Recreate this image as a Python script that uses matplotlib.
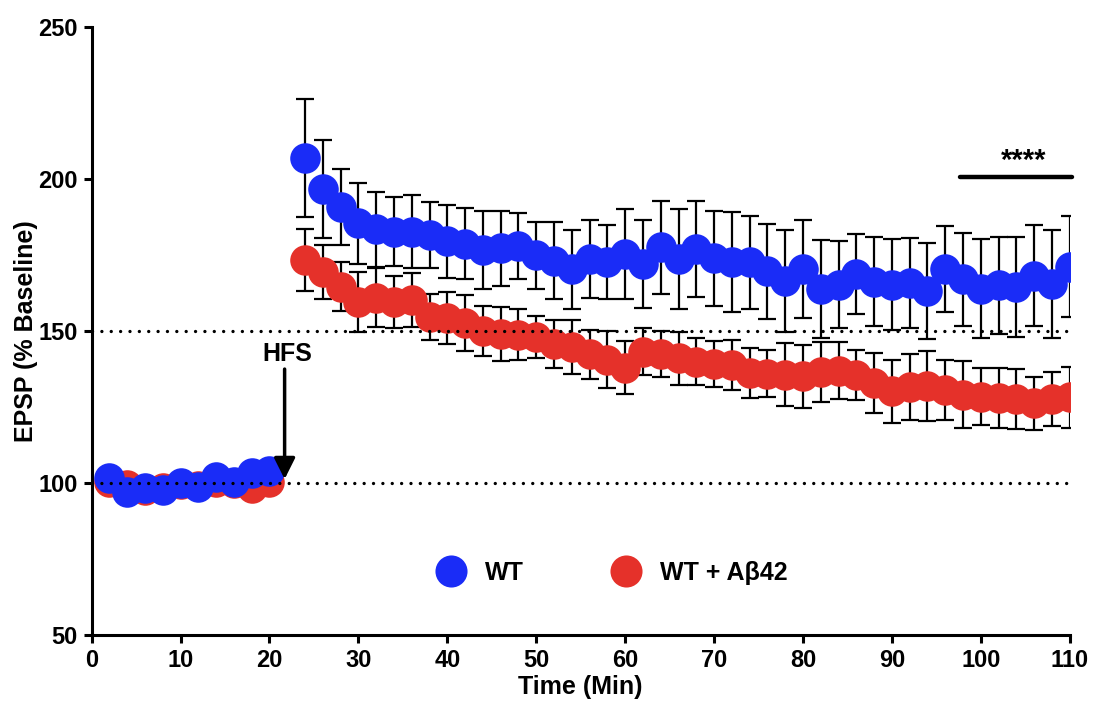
import matplotlib
matplotlib.use("Agg")
import matplotlib.pyplot as plt
import numpy as np

plt.rcParams['font.family'] = ['Liberation Sans', 'DejaVu Sans']
plt.rcParams['font.weight'] = 'bold'

# time points (min): baseline then post-HFS
time_min = [2, 4, 6, 8, 10, 12, 14, 16, 18, 20,
            24, 26, 28, 30, 32, 34, 36, 38, 40, 42, 44, 46, 48, 50, 52, 54,
            56, 58, 60, 62, 64, 66, 68, 70, 72, 74, 76, 78, 80, 82, 84, 86,
            88, 90, 92, 94, 96, 98, 100, 102, 104, 106, 108, 110]

wt_mean = [101.7, 97.2, 98.4, 97.6, 100.0, 98.8, 102.0, 100.3, 103.3, 103.9,
           207.0, 196.7, 190.9, 185.4, 183.5, 182.7, 182.7, 181.6, 179.6, 178.8,
           176.6, 177.2, 178.0, 175.0, 173.2, 170.3, 173.7, 172.8, 175.3, 172.0,
           177.5, 173.6, 177.0, 173.9, 172.8, 172.6, 169.6, 166.6, 170.4, 163.8,
           165.3, 168.8, 166.3, 165.3, 165.7, 163.1, 170.3, 167.0, 164.0, 165.0,
           164.6, 168.2, 165.5, 171.2]
wt_sem = [2.0, 2.0, 2.0, 2.0, 2.0, 2.0, 2.0, 2.0, 2.0, 2.0,
          19.5, 16.0, 12.5, 13.4, 12.4, 11.4, 12.0, 11.0, 12.0, 11.8,
          12.9, 12.3, 10.8, 11.0, 12.6, 13.0, 12.7, 12.2, 14.9, 14.5,
          15.2, 16.5, 15.8, 15.6, 16.5, 15.2, 15.5, 16.8, 16.1, 16.2,
          14.4, 13.1, 14.5, 15.0, 14.8, 15.8, 14.1, 15.2, 16.2, 16.0,
          16.4, 16.6, 17.8, 16.6]

ab_mean = [100.5, 99.5, 97.8, 98.5, 99.6, 99.2, 100.2, 100.0, 98.5, 100.5,
           173.4, 169.5, 164.6, 159.6, 161.0, 159.6, 160.2, 154.7, 154.2, 152.8,
           150.0, 149.0, 148.8, 148.0, 145.8, 144.8, 142.3, 140.6, 137.9, 143.2,
           142.5, 141.0, 139.9, 139.3, 138.9, 136.2, 136.0, 135.6, 135.1, 136.6,
           137.0, 135.5, 132.8, 130.2, 131.6, 132.0, 130.6, 129.0, 128.4, 127.9,
           127.7, 126.2, 127.6, 128.2]
ab_sem = [2.0, 2.0, 2.0, 2.0, 2.0, 2.0, 2.0, 2.0, 2.0, 2.0,
          10.2, 8.8, 8.0, 9.9, 9.8, 8.6, 9.0, 7.6, 8.6, 9.2,
          8.2, 9.0, 8.4, 7.0, 8.0, 8.8, 8.2, 9.3, 8.7, 7.7,
          7.6, 8.8, 7.7, 7.6, 8.2, 8.2, 7.8, 10.4, 10.4, 9.9,
          9.3, 8.3, 9.9, 10.4, 11.0, 11.6, 9.9, 11.0, 9.4, 9.8,
          9.9, 8.8, 8.8, 10.0]

blue = '#1a2cf7'
red = '#e5312a'

fig = plt.figure(figsize=(10.99, 7.12), dpi=100)
ax = fig.add_axes([0.0834, 0.108, 0.890, 0.854])

# red first, blue on top (as in the original)
ax.errorbar(time_min, ab_mean, yerr=ab_sem, fmt='none', ecolor='black',
            elinewidth=1.6, capsize=6.5, capthick=1.6, zorder=2)
ax.plot(time_min, ab_mean, 'o', color=red, markersize=22, markeredgewidth=0,
        zorder=3, label='WT + Aβ42')
ax.errorbar(time_min, wt_mean, yerr=wt_sem, fmt='none', ecolor='black',
            elinewidth=1.6, capsize=6.5, capthick=1.6, zorder=4)
ax.plot(time_min, wt_mean, 'o', color=blue, markersize=22, markeredgewidth=0,
        zorder=5, label='WT')

# reference dotted lines
for yref in [100, 150]:
    ax.plot([0, 110], [yref, yref], color='black', lw=2.4,
            ls=(0, (0.01, 2.8)), dash_capstyle='round', zorder=6)

# HFS arrow
ax.annotate('', xy=(21.7, 101.3), xytext=(21.7, 137.5),
            arrowprops=dict(arrowstyle='-|>', lw=2.5, color='black',
                            mutation_scale=32, shrinkA=0, shrinkB=0), zorder=7)
ax.text(22.0, 142.3, 'HFS', ha='center', va='center', fontsize=18,
        fontweight='bold')

# significance bar
ax.plot([97.6, 110.2], [200.7, 200.7], color='black', lw=3.2,
        solid_capstyle='round', clip_on=False)
ax.text(104.8, 206.0, '****', ha='center', va='center', fontsize=21,
        fontweight='bold')

ax.set_xlim(0, 110)
ax.set_ylim(50, 250)
ax.set_xticks(np.arange(0, 111, 10))
ax.set_yticks([50, 100, 150, 200, 250])
for sp in ['top', 'right']:
    ax.spines[sp].set_visible(False)
for sp in ['left', 'bottom']:
    ax.spines[sp].set_linewidth(2.2)
ax.tick_params(direction='out', length=6, width=2.2, labelsize=17, pad=4)
for lab in ax.get_xticklabels() + ax.get_yticklabels():
    lab.set_fontweight('bold')
ax.set_xlabel('Time (Min)', fontsize=18, fontweight='bold', labelpad=2)
ax.set_ylabel('EPSP (% Baseline)', fontsize=18, fontweight='bold', labelpad=0)

handles, labels = ax.get_legend_handles_labels()
leg = ax.legend([handles[1], handles[0]], [labels[1], labels[0]], ncol=2,
                frameon=False, loc='center', bbox_to_anchor=(0.532, 0.102),
                fontsize=18, markerscale=1.05, handletextpad=0.75,
                columnspacing=3.5, handlelength=1.2)
for t in leg.get_texts():
    t.set_fontweight('bold')

fig.savefig('out.png', dpi=100)
